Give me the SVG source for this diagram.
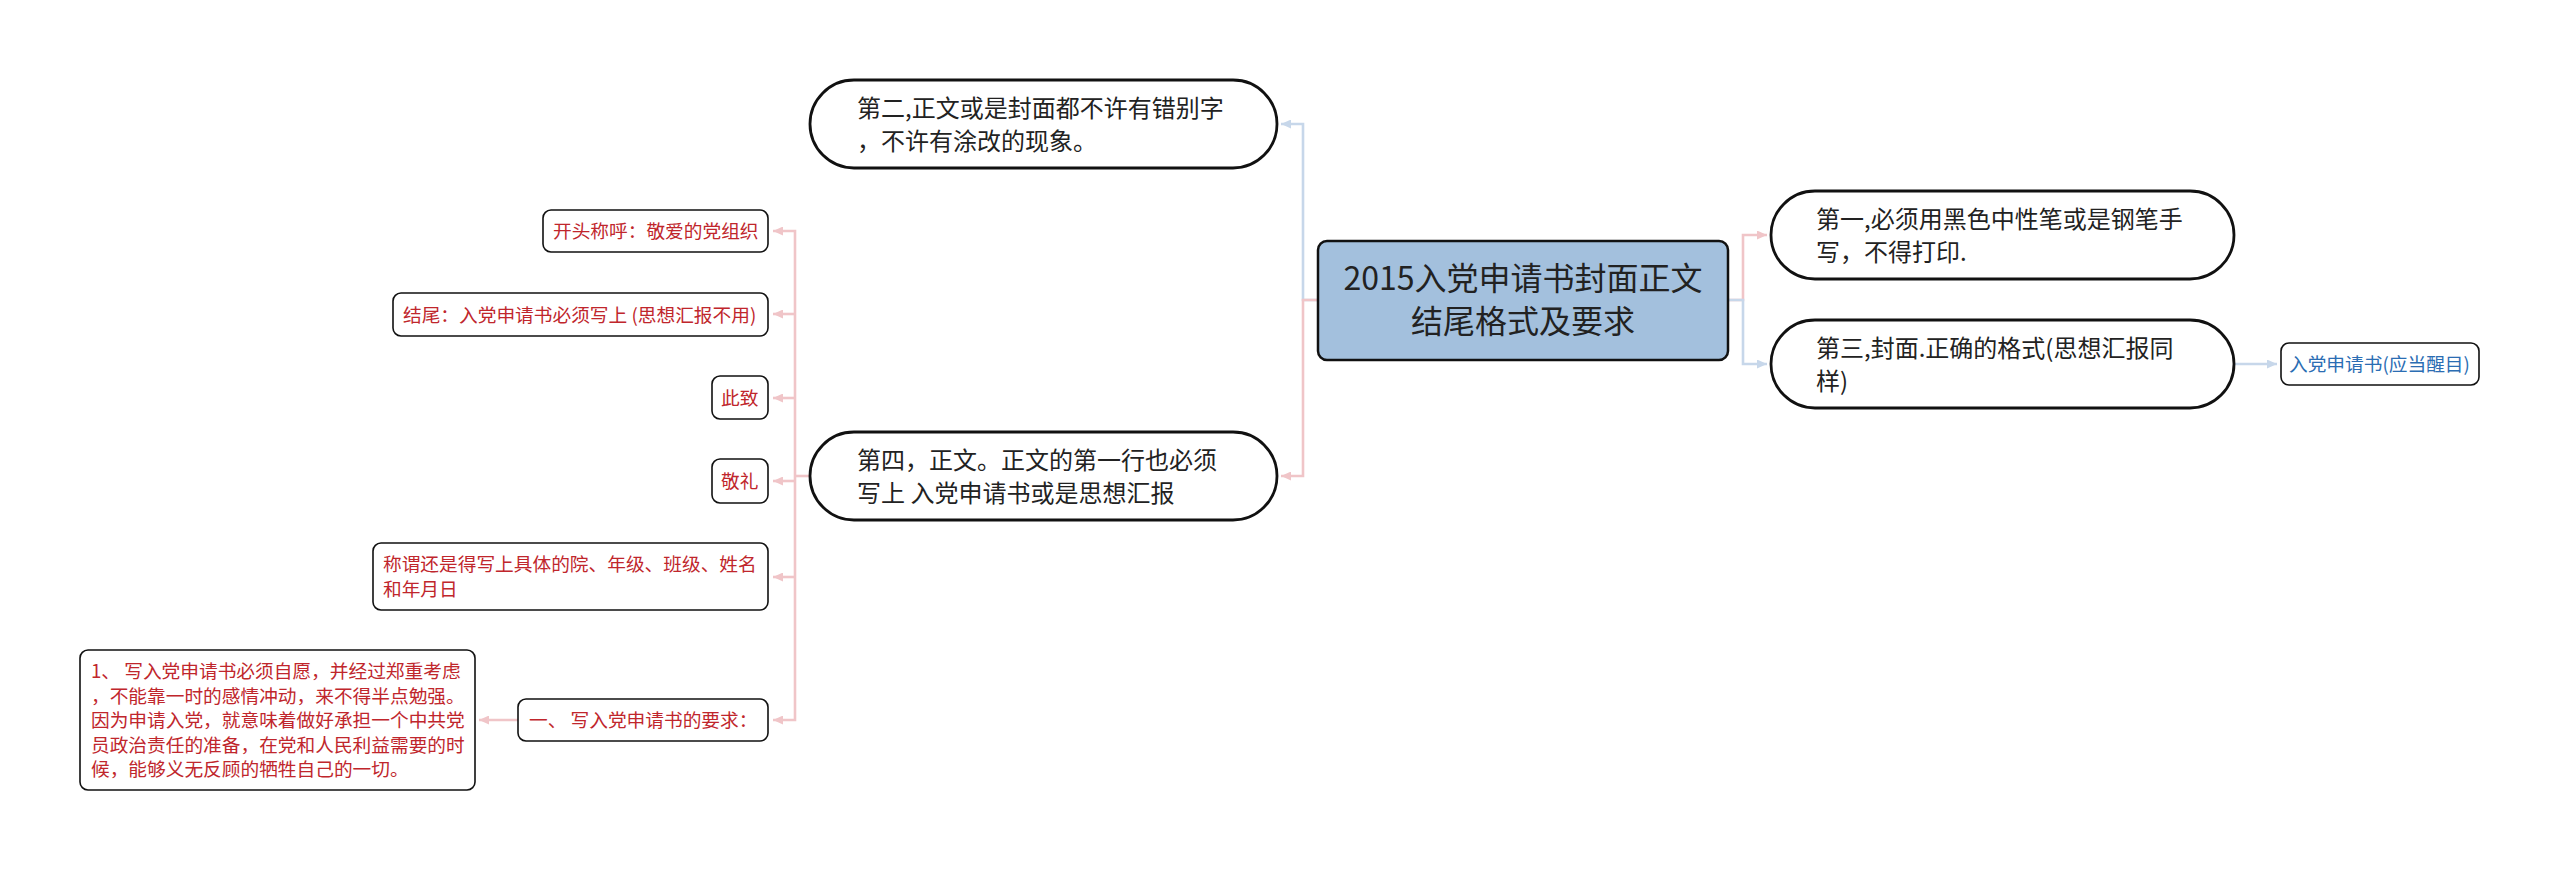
<svg xmlns="http://www.w3.org/2000/svg" width="2560" height="871" viewBox="0 0 2560 871">
<style>
text{font-family:"Noto Sans CJK SC","Liberation Sans",sans-serif;}
.root{fill:#a3c0dd;stroke:#111;stroke-width:2.5;}
.l1{fill:#fff;stroke:#111;stroke-width:2.8;}
.l2{fill:#fff;stroke:#111;stroke-width:1.6;}
.t0{font-size:32px;fill:#222;text-anchor:middle;}
.t1{font-size:24px;fill:#222;}
.t2{font-size:18.7px;fill:#c0262c;}
.t3{font-size:18.7px;fill:#2b6db3;}
.cp{fill:none;stroke:#f0c5c8;stroke-width:2.6;}
.cb{fill:none;stroke:#c7d7ea;stroke-width:2.6;}
</style>
<defs>
<marker id="ap" markerUnits="userSpaceOnUse" markerWidth="10" markerHeight="9" refX="10" refY="4.5" orient="auto"><path d="M0,0 L10,4.5 L0,9 z" fill="#f0c5c8"/></marker>
<marker id="ab" markerUnits="userSpaceOnUse" markerWidth="10" markerHeight="9" refX="10" refY="4.5" orient="auto"><path d="M0,0 L10,4.5 L0,9 z" fill="#c7d7ea"/></marker>
</defs>
<rect width="2560" height="871" fill="#fff"/>
<g id="connectors">
<path class="cb" d="M1318,300 H1303 V124 H1281" marker-end="url(#ab)"/>
<path class="cp" d="M1318,300 H1303 V476 H1281" marker-end="url(#ap)"/>
<path class="cp" d="M1728,300 H1743 V235 H1767" marker-end="url(#ap)"/>
<path class="cb" d="M1728,300 H1743 V364 H1767" marker-end="url(#ab)"/>
<path class="cb" d="M2234,364 H2277" marker-end="url(#ab)"/>
<path class="cp" d="M810,476 H795"/>
<path class="cp" d="M795,476 V231 H773" marker-end="url(#ap)"/>
<path class="cp" d="M795,314 H773" marker-end="url(#ap)"/>
<path class="cp" d="M795,398 H773" marker-end="url(#ap)"/>
<path class="cp" d="M795,481 H773" marker-end="url(#ap)"/>
<path class="cp" d="M795,476 V720 H773" marker-end="url(#ap)"/>
<path class="cp" d="M795,577 H773" marker-end="url(#ap)"/>
<path class="cp" d="M518,720 H479" marker-end="url(#ap)"/>
</g>
<g id="root">
<rect class="root" x="1318" y="241" width="410" height="119" rx="9"/>
<text class="t0" x="1523" y="290">2015入党申请书封面正文</text>
<text class="t0" x="1523" y="333">结尾格式及要求</text>
</g>
<g id="n2">
<rect class="l1" x="810" y="80" width="467" height="88" rx="44"/>
<text class="t1" x="857" y="117">第二,正文或是封面都不许有错别字</text>
<text class="t1" x="857" y="150">，不许有涂改的现象。</text>
</g>
<g id="n4">
<rect class="l1" x="810" y="432" width="467" height="88" rx="44"/>
<text class="t1" x="857" y="469">第四，正文。正文的第一行也必须</text>
<text class="t1" x="857" y="502">写上 入党申请书或是思想汇报</text>
</g>
<g id="n1">
<rect class="l1" x="1771" y="191" width="463" height="88" rx="44"/>
<text class="t1" x="1816" y="228">第一,必须用黑色中性笔或是钢笔手</text>
<text class="t1" x="1816" y="261">写，不得打印.</text>
</g>
<g id="n3">
<rect class="l1" x="1771" y="320" width="463" height="88" rx="44"/>
<text class="t1" x="1816" y="357">第三,封面.正确的格式(思想汇报同</text>
<text class="t1" x="1816" y="390">样)</text>
</g>
<g id="n3a">
<rect class="l2" x="2281" y="343" width="198" height="42" rx="8"/>
<text class="t3" x="2289" y="371">入党申请书(应当醒目)</text>
</g>
<g id="n4a">
<rect class="l2" x="543" y="210" width="225" height="42" rx="8"/>
<text class="t2" x="553" y="238">开头称呼：敬爱的党组织</text>
</g>
<g id="n4b">
<rect class="l2" x="393" y="293" width="375" height="43" rx="8"/>
<text class="t2" x="403" y="321.5">结尾：入党申请书必须写上 (思想汇报不用)</text>
</g>
<g id="n4c">
<rect class="l2" x="712" y="376" width="56" height="43" rx="8"/>
<text class="t2" x="721" y="404.5">此致</text>
</g>
<g id="n4d">
<rect class="l2" x="712" y="459" width="56" height="44" rx="8"/>
<text class="t2" x="721" y="488">敬礼</text>
</g>
<g id="n4e">
<rect class="l2" x="373" y="543" width="395" height="67" rx="8"/>
<text class="t2" x="383" y="571">称谓还是得写上具体的院、年级、班级、姓名</text>
<text class="t2" x="383" y="596">和年月日</text>
</g>
<g id="n4f">
<rect class="l2" x="518" y="699" width="250" height="42" rx="8"/>
<text class="t2" x="529" y="727">一、 写入党申请书的要求：</text>
</g>
<g id="n4f1">
<rect class="l2" x="80" y="650" width="395" height="140" rx="8"/>
<text class="t2" x="91" y="678">1、 写入党申请书必须自愿，并经过郑重考虑</text>
<text class="t2" x="91" y="702.5">，不能靠一时的感情冲动，来不得半点勉强。</text>
<text class="t2" x="91" y="727">因为申请入党，就意味着做好承担一个中共党</text>
<text class="t2" x="91" y="751.5">员政治责任的准备，在党和人民利益需要的时</text>
<text class="t2" x="91" y="776">候，能够义无反顾的牺牲自己的一切。</text>
</g>
</svg>
